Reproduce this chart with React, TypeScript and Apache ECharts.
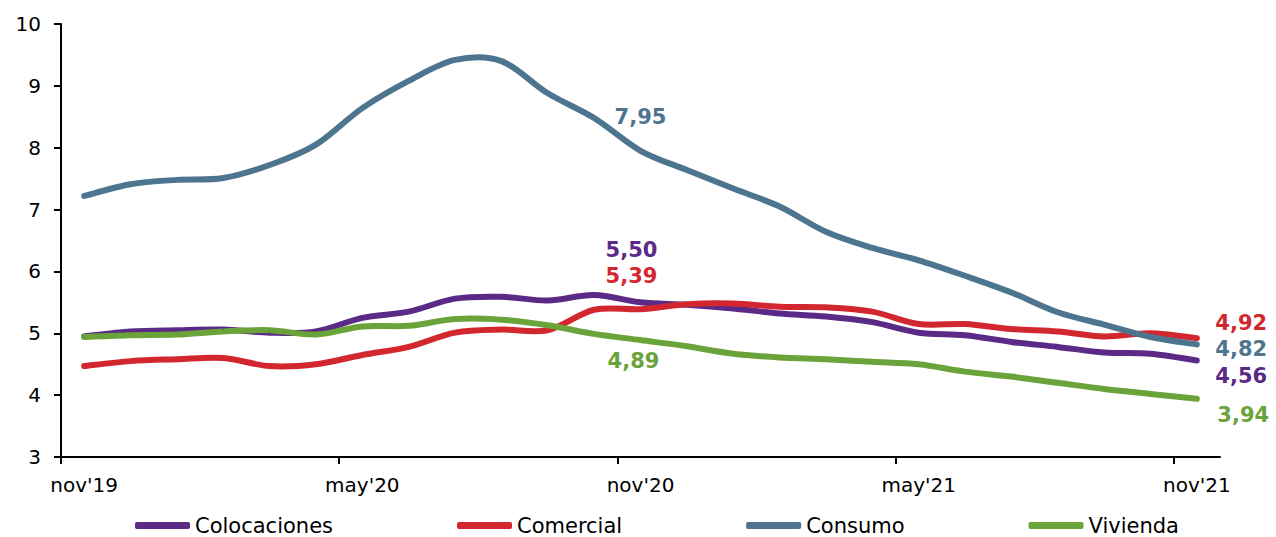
import React, { useEffect, useRef } from "react";
import * as echarts from "echarts";

// Monthly observations, nov'19 .. nov'21
const months = [
  "nov'19", "dic'19", "ene'20", "feb'20", "mar'20", "abr'20", "may'20", "jun'20", "jul'20",
  "ago'20", "sep'20", "oct'20", "nov'20", "dic'20", "ene'21", "feb'21", "mar'21", "abr'21",
  "may'21", "jun'21", "jul'21", "ago'21", "sep'21", "oct'21", "nov'21",
];

const colocaciones = [
  4.95, 5.03, 5.05, 5.06, 5.01, 5.03, 5.25, 5.35, 5.56, 5.59, 5.53, 5.62, 5.5,
  5.46, 5.4, 5.32, 5.27, 5.18, 5.01, 4.97, 4.86, 4.78, 4.69, 4.67, 4.56,
];
const comercial = [
  4.47, 4.55, 4.58, 4.6, 4.47, 4.5, 4.65, 4.78, 5.01, 5.06, 5.05, 5.38, 5.39,
  5.47, 5.48, 5.43, 5.42, 5.35, 5.15, 5.15, 5.07, 5.03, 4.95, 5.0, 4.92,
];
const consumo = [
  7.22, 7.41, 7.48, 7.51, 7.72, 8.05, 8.64, 9.08, 9.42, 9.4, 8.88, 8.48, 7.95,
  7.64, 7.34, 7.05, 6.64, 6.38, 6.18, 5.93, 5.66, 5.34, 5.14, 4.94, 4.82,
];
const vivienda = [
  4.94, 4.97, 4.98, 5.03, 5.05, 4.98, 5.11, 5.12, 5.23, 5.22, 5.13, 4.99, 4.89,
  4.79, 4.67, 4.61, 4.58, 4.54, 4.5, 4.38, 4.3, 4.2, 4.1, 4.02, 3.94,
];

const yTicks = { min: 3, max: 10, interval: 1 };

const FONT = "DejaVu Sans";
const LINE_WIDTH = 6;
const fmt = (v: number) => v.toFixed(2).replace(".", ",");

type LabelSpec = { index: number; position: string; distance: number; offset: [number, number] };

function buildData(values: number[], color: string, labels: LabelSpec[]) {
  return values.map((v, i) => {
    const spec = labels.find((l) => l.index === i);
    if (!spec) return v;
    return {
      value: v,
      label: {
        show: true,
        position: spec.position,
        distance: spec.distance,
        offset: spec.offset,
        formatter: () => fmt(v),
        color,
        fontFamily: FONT,
        fontWeight: "bold",
        fontSize: 21,
      },
    };
  });
}

// Smooth curve through the mapped points (Catmull-Rom converted to cubic Bezier)
function smoothPath(pts: number[][]) {
  let d = `M${pts[0][0]},${pts[0][1]}`;
  for (let i = 0; i < pts.length - 1; i++) {
    const p0 = pts[Math.max(0, i - 1)];
    const p1 = pts[i];
    const p2 = pts[i + 1];
    const p3 = pts[Math.min(pts.length - 1, i + 2)];
    const c1x = p1[0] + (p2[0] - p0[0]) / 6;
    const c1y = p1[1] + (p2[1] - p0[1]) / 6;
    const c2x = p2[0] - (p3[0] - p1[0]) / 6;
    const c2y = p2[1] - (p3[1] - p1[1]) / 6;
    d += ` C${c1x},${c1y} ${c2x},${c2y} ${p2[0]},${p2[1]}`;
  }
  return d;
}

export default function App() {
  const ref = useRef<HTMLDivElement>(null);

  useEffect(() => {
    if (!ref.current) return;
    const chart = echarts.init(ref.current, undefined, { renderer: "svg" });
    const last = months.length - 1;
    const mid = 12;

    const seriesDefs = [
      {
        name: "Colocaciones",
        color: "#5B2A86",
        values: colocaciones,
        labels: [
          { index: mid, position: "top", distance: 41, offset: [-9, 0] },
          { index: last, position: "right", distance: 18, offset: [0, 15] },
        ],
      },
      {
        name: "Comercial",
        color: "#D3272F",
        values: comercial,
        labels: [
          { index: mid, position: "top", distance: 22, offset: [-9, 0] },
          { index: last, position: "right", distance: 18, offset: [0, -15] },
        ],
      },
      {
        name: "Consumo",
        color: "#4E7590",
        values: consumo,
        labels: [
          { index: mid, position: "top", distance: 23, offset: [0, 0] },
          { index: last, position: "right", distance: 18, offset: [0, 5] },
        ],
      },
      {
        name: "Vivienda",
        color: "#6AA339",
        values: vivienda,
        labels: [
          { index: mid, position: "bottom", distance: 10, offset: [-7, 0] },
          { index: last, position: "right", distance: 20, offset: [0, 16] },
        ],
      },
    ];

    // line series: carry legend entries and value labels
    const labelSeries = seriesDefs.map((s) => ({
      name: s.name,
      type: "line",
      xAxisIndex: 0,
      showSymbol: true,
      symbol: "circle",
      symbolSize: 1,
      color: s.color,
      itemStyle: { color: s.color },
      lineStyle: { color: s.color, width: LINE_WIDTH, opacity: 0 },
      z: 3,
      data: buildData(s.values, s.color, s.labels as LabelSpec[]),
    }));

    // custom series: the smoothed curves themselves
    const curveSeries = seriesDefs.map((s) => ({
      name: s.name,
      type: "custom",
      xAxisIndex: 0,
      silent: true,
      z: 2,
      data: s.values.map((v, i) => [i, v]),
      encode: { x: 0, y: 1 },
      renderItem: (params: any, api: any) => {
        if (params.dataIndex !== 0) return null;
        const pts = s.values.map((v, i) => api.coord([i, v]));
        return {
          type: "path",
          shape: { pathData: smoothPath(pts) },
          style: {
            fill: "none",
            stroke: s.color,
            lineWidth: LINE_WIDTH,
            lineCap: "round",
            lineJoin: "round",
          },
        };
      },
    }));

    chart.setOption({
      animation: false,
      backgroundColor: "#ffffff",
      grid: { left: 61, right: 56, top: 24, bottom: 80, containLabel: false },
      legend: {
        left: 135,
        top: 515,
        padding: 0,
        itemGap: 124,
        itemWidth: 55,
        itemHeight: 7,
        icon: "roundRect",
        lineStyle: { width: LINE_WIDTH, opacity: 1, cap: "round" },
        textStyle: { fontFamily: FONT, fontSize: 21, color: "#000" },
        data: seriesDefs.map((s) => s.name),
      },
      xAxis: [
        {
          type: "category",
          data: months,
          boundaryGap: true,
          axisLine: { show: true, lineStyle: { color: "#000", width: 2 } },
          axisTick: { show: false },
          axisLabel: {
            interval: 5,
            margin: 18,
            color: "#000",
            fontFamily: FONT,
            fontSize: 20,
          },
          splitLine: { show: false },
        },
        {
          // tick marks on month boundaries every six months
          type: "category",
          position: "bottom",
          data: Array.from({ length: months.length + 1 }, () => ""),
          boundaryGap: false,
          axisLine: { show: false },
          axisTick: { show: true, interval: 5, length: 7, lineStyle: { color: "#000", width: 2 } },
          axisLabel: { show: false },
          splitLine: { show: false },
        },
      ],
      yAxis: {
        type: "value",
        min: yTicks.min,
        max: yTicks.max,
        interval: yTicks.interval,
        axisLine: { show: true, lineStyle: { color: "#000", width: 2 } },
        axisTick: { show: true, length: 7, lineStyle: { color: "#000", width: 2 } },
        axisLabel: { margin: 20, color: "#000", fontFamily: FONT, fontSize: 20 },
        splitLine: { show: false },
      },
      series: [...labelSeries, ...curveSeries],
    });

    return () => chart.dispose();
  }, []);

  return (
    <div
      ref={ref}
      style={{ position: "fixed", left: 0, top: 0, width: 1276, height: 537, background: "#fff" }}
    />
  );
}
